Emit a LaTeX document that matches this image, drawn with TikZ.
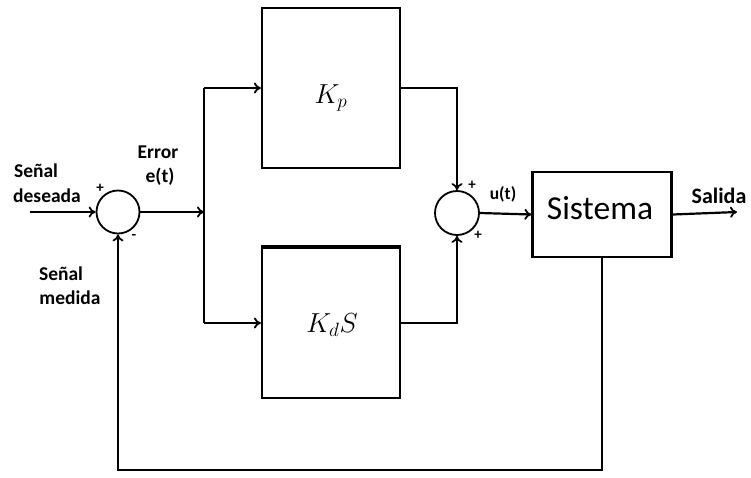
\documentclass[tikz,border=0pt]{standalone}
\usepackage{fix-cm}
\usepackage{fontspec}
\setmainfont{Carlito}
\usetikzlibrary{arrows.meta}
\begin{document}
\begin{tikzpicture}[x=1pt,y=-1pt,
  wire/.style={line width=2.2pt},
  arr/.style={wire,-{To[length=7pt,width=11pt,line width=1.8pt]}},
  blk/.style={draw,line width=2.2pt,rectangle,inner sep=0pt},
  sumc/.style={draw,circle,line width=1.8pt,inner sep=0pt},
  mth/.style={anchor=base,inner sep=0pt,font=\fontsize{27.5}{30}\selectfont},
  lbl/.style={font=\fontsize{19.5}{21}\selectfont\bfseries,inner sep=0pt},
  sgn/.style={font=\fontsize{15}{16}\selectfont\bfseries,inner sep=0pt}]
\useasboundingbox (0,0) rectangle (751,477);
\node[sumc,minimum size=43pt] (s1) at (118,212) {};
\node[blk,minimum width=138pt,minimum height=160pt] (kp) at (331,88) {};
\node[mth] (kpt) at (331,103.5) {$K_p$};
\node[blk,minimum width=138pt,minimum height=150pt] (kd) at (331,323) {};
\node[mth] (kdt) at (332,332.5) {$K_dS$};
\draw[line width=3.5pt] (kd.north west) -- (kd.north east);
\node[sumc,minimum size=44pt] (s2) at (457,213) {};
\node[blk,minimum width=139pt,minimum height=85pt] (sis) at (602,214.5) {};
\node[anchor=base,inner sep=0pt,font=\fontsize{33.5}{35}\selectfont] (sist) at (600,219) {Sistema};
\coordinate (in) at (30,212);
\coordinate (br) at (204,212);
\coordinate (out) at (737,212);
\coordinate (fb1) at (602,470);
\coordinate (fb2) at (118,470);
\draw[arr] (in) -- (s1.west);
\draw[arr] (s1.east) -- (br);
\draw[wire] (br|-kp.west) -- (br|-kd.west);
\draw[arr] (br|-kp.west) -- (kp.west);
\draw[arr] (br|-kd.west) -- (kd.west);
\draw[arr] (kp.east) -| (s2.north);
\draw[arr] (kd.east) -| (s2.south);
\draw[arr] (s2.east) -- (sis.west);
\draw[arr] (sis.east) -- (out);
\draw[arr] (sis.south) -- (fb1) -- (fb2) -- (s1.south);
\node[lbl] (t1) at (36,171) {Señal};
\node[lbl] (t2) at (47,196) {deseada};
\node[lbl] (t3) at (158,152) {Error};
\node[lbl] (t4) at (160,177) {e(t)};
\node[lbl] (t5) at (61,274) {Señal};
\node[lbl] (t6) at (70,298) {medida};
\node[lbl,font=\fontsize{22}{24}\selectfont\bfseries] (t7) at (719,196) {Salida};
\node[sgn,font=\fontsize{17.5}{19}\selectfont\bfseries] (t8) at (503,194) {u(t)};
\node[sgn] (p1) at (100,188) {+};
\node[sgn] (m1) at (134,237) {-};
\node[sgn] (p2) at (472,185) {+};
\node[sgn] (p3) at (478,235) {+};
\end{tikzpicture}
\end{document}
